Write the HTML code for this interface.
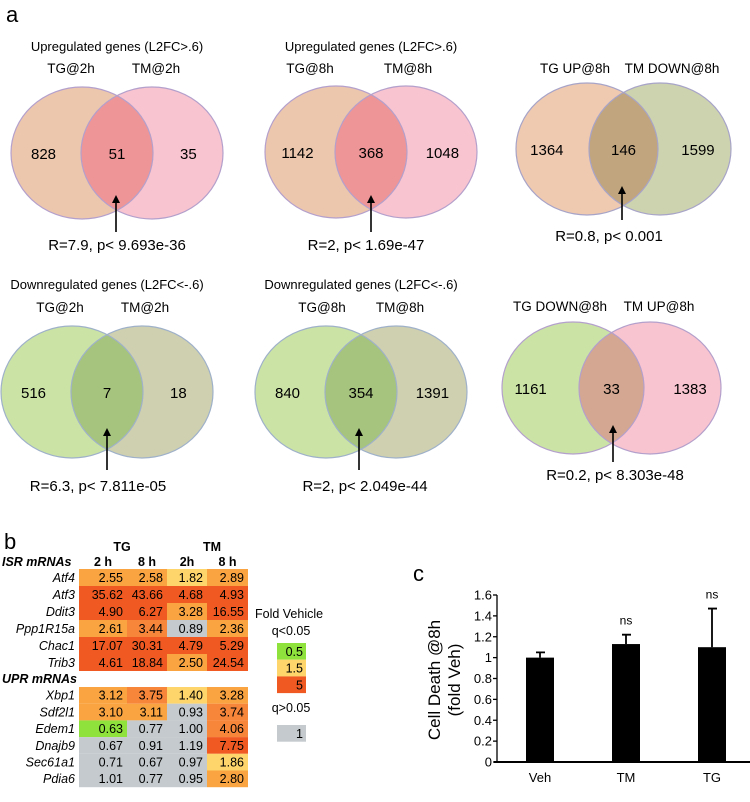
<!DOCTYPE html>
<html><head><meta charset="utf-8"><style>
body{margin:0;background:#fff;}
svg text{font-family:"Liberation Sans",sans-serif;fill:#000;}
</style></head><body>
<svg id="fig" width="750" height="797" viewBox="0 0 750 797" xmlns="http://www.w3.org/2000/svg">
<defs>
<marker id="ah" markerWidth="8" markerHeight="8" refX="4" refY="4" orient="auto" markerUnits="userSpaceOnUse"><path d="M0,0 L8,4 L0,8 z" fill="#000"/></marker>
</defs>
<g id="venns"></g>
<g id="heat"></g>
<g id="bars"></g>
</svg>
<script>
const NS="http://www.w3.org/2000/svg";
function mk(p,t,a,txt){const e=document.createElementNS(NS,t);for(const k in a)e.setAttribute(k,a[k]);if(txt!==undefined)e.textContent=txt;p.appendChild(e);return e;}

// ---------- Panel a: Venn data ----------
const vennTitles=["Upregulated genes (L2FC>.6)","Upregulated genes (L2FC>.6)","","Downregulated genes (L2FC<-.6)","Downregulated genes (L2FC<-.6)",""];
const vennLeftLabels=["TG@2h","TG@8h","TG UP@8h","TG@2h","TG@8h","TG DOWN@8h"];
const vennRightLabels=["TM@2h","TM@8h","TM DOWN@8h","TM@2h","TM@8h","TM UP@8h"];
const vennLeftOnly=[828,1142,1364,516,840,1161];
const vennOverlap=[51,368,146,7,354,33];
const vennRightOnly=[35,1048,1599,18,1391,1383];
const vennStats=["R=7.9, p< 9.693e-36","R=2, p< 1.69e-47","R=0.8, p< 0.001","R=6.3, p< 7.811e-05","R=2, p< 2.049e-44","R=0.2, p< 8.303e-48"];
// layout (not data)
const vLayout=[
 {l:82,r:152,cy:153,t:51,lab:73,lx:71,rx:156,ax:116,ay1:232,ay2:195,sx:117,sy:250,cl:["#ecc7ae","#f8c4cf","#ee9597"],st:"#b4a0cc"},
 {l:336,r:406,cy:152,t:51,lab:73,lx:310,rx:408,ax:371,ay1:232,ay2:195,sx:366,sy:250,cl:["#ecc7ae","#f8c4cf","#ee9597"],st:"#b4a0cc"},
 {l:587,r:660,cy:149,t:0,lab:73,lx:575,rx:672,ax:622,ay1:220,ay2:186,sx:609,sy:241,cl:["#efc9b0","#cdd3ae","#c1a57f"],st:"#a7a4c8"},
 {l:72,r:142,cy:392,t:289,lab:312,lx:60,rx:145,ax:107,ay1:470,ay2:428,sx:98,sy:491,cl:["#cbe4a6","#cfd0b0","#a6c47d"],st:"#9fb1c9"},
 {l:326,r:396,cy:392,t:289,lab:312,lx:322,rx:400,ax:359,ay1:470,ay2:428,sx:365,sy:491,cl:["#cbe4a6","#cfd0b0","#a6c47d"],st:"#9fb1c9"},
 {l:573,r:650,cy:388,t:0,lab:311,lx:560,rx:659,ax:613,ay1:462,ay2:425,sx:615,sy:480,cl:["#cbe4a6","#f8c4cf","#d3a791"],st:"#b4a0cc"}
];
const vg=document.getElementById('venns');
const aLab=mk(vg,'text',{x:6,y:22,'font-size':22});aLab.textContent='a';


vennOverlap.forEach((ov,i)=>{
 const L=vLayout[i];const g=mk(vg,'g',{});
 
 
 const rx=71,ry=66;
 const cp=mk(g,'clipPath',{id:'cp'+i});mk(cp,'ellipse',{cx:L.l,cy:L.cy,rx:rx,ry:ry});
 const e1=mk(g,'ellipse',{cx:L.l,cy:L.cy,rx:rx,ry:ry,fill:L.cl[0]});
 
 
 const e2=mk(g,'ellipse',{cx:L.r,cy:L.cy,rx:rx,ry:ry,fill:L.cl[1]});
 
 
 const e3=mk(g,'ellipse',{cx:L.r,cy:L.cy,rx:rx,ry:ry,fill:L.cl[2],'clip-path':'url(#cp'+i+')'});
 
 
 mk(g,'ellipse',{cx:L.l,cy:L.cy,rx:rx,ry:ry,fill:'none',stroke:L.st,'stroke-width':1.2});
 mk(g,'ellipse',{cx:L.r,cy:L.cy,rx:rx,ry:ry,fill:'none',stroke:L.st,'stroke-width':1.2});
 if(vennTitles[i]){const t=mk(g,'text',{x:(L.l+L.r)/2,y:L.t,'font-size':13,'text-anchor':'middle'},vennTitles[i]);
  
  }
 const t1=mk(g,'text',{x:L.lx,y:L.lab,'font-size':13.5,'text-anchor':'middle'},vennLeftLabels[i]);
 
 
 const t2=mk(g,'text',{x:L.rx,y:L.lab,'font-size':13.5,'text-anchor':'middle'},vennRightLabels[i]);
 
 
 const lc=L.l-(L.r-L.l)*0.55, mc=(L.l+L.r)/2, rc=L.r+(L.r-L.l)*0.52;
 const n1=mk(g,'text',{x:lc,y:L.cy+6,'font-size':15,'text-anchor':'middle'},String(vennLeftOnly[i]));
 
 
 const n2=mk(g,'text',{x:mc,y:L.cy+6,'font-size':15,'text-anchor':'middle'},String(ov));
 
 
 const n3=mk(g,'text',{x:rc,y:L.cy+6,'font-size':15,'text-anchor':'middle'},String(vennRightOnly[i]));
 
 
 const ar=mk(g,'line',{x1:L.ax,y1:L.ay1,x2:L.ax,y2:L.ay2+4,stroke:'#000','stroke-width':1.6,'marker-end':'url(#ah)'});
 
 
 const s=mk(g,'text',{x:L.sx,y:L.sy,'font-size':15,'text-anchor':'middle'},vennStats[i]);
 
 
});

// ---------- Panel b: heatmap data ----------
const isrGenes=["Atf4","Atf3","Ddit3","Ppp1R15a","Chac1","Trib3"];
const uprGenes=["Xbp1","Sdf2l1","Edem1","Dnajb9","Sec61a1","Pdia6"];
const colHeaders=["2 h","8 h","2h","8 h"];
const isrValues=[[2.55,2.58,1.82,2.89],[35.62,43.66,4.68,4.93],[4.90,6.27,3.28,16.55],[2.61,3.44,0.89,2.36],[17.07,30.31,4.79,5.29],[4.61,18.84,2.50,24.54]];
const uprValues=[[3.12,3.75,1.40,3.28],[3.10,3.11,0.93,3.74],[0.63,0.77,1.00,4.06],[0.67,0.91,1.19,7.75],[0.71,0.67,0.97,1.86],[1.01,0.77,0.95,2.80]];
const isrSig=[[1,1,1,1],[1,1,1,1],[1,1,1,1],[1,1,0,1],[1,1,1,1],[1,1,1,1]];
const uprSig=[[1,1,1,1],[1,1,0,1],[1,0,0,1],[0,0,0,1],[0,0,0,1],[0,0,0,1]];
const legendValues=[0.5,1.5,5];
function cellColor(v,sig){if(!sig)return'#c4cacd';if(v<1)return'#8fe23c';if(v<2)return'#fdd56a';if(v<3.3)return'#f9a440';if(v<4.5)return'#f7853a';return'#f05a22';}
const hg=document.getElementById('heat');
const colX=[79,127,167,207,248];
function t(p,x,y,s,txt,extra){const e=mk(p,'text',Object.assign({x:x,y:y,'font-size':s},extra||{}),txt);return e;}
const bl=t(hg,4,549,22,'b');
const h1=t(hg,122,551,12.5,'TG',{'font-weight':'bold','text-anchor':'middle'});
const h2=t(hg,212,551,12.5,'TM',{'font-weight':'bold','text-anchor':'middle'});
colHeaders.forEach((c,j)=>{const e=t(hg,(colX[j]+colX[j+1])/2,566,12.5,c,{'font-weight':'bold','text-anchor':'middle'});
 });
const s1=t(hg,2,566,12.5,'ISR mRNAs',{'font-weight':'bold','font-style':'italic'});
const s2=t(hg,2,683,12.5,'UPR mRNAs',{'font-weight':'bold','font-style':'italic'});
function drawBlock(genes,vals,sig,top,rh){
 genes.forEach((g,i)=>{const y=top+i*rh;
  const gl=t(hg,75,y+rh-4,12.5,g,{'font-style':'italic','text-anchor':'end'});
  
  vals[i].forEach((v,j)=>{const r=mk(hg,'rect',{x:colX[j],y:y,width:colX[j+1]-colX[j],height:rh,fill:cellColor(v,sig[i][j])});
   
   const tv=t(hg,colX[j+1]-4,y+rh-4,12.5,v.toFixed(2),{'text-anchor':'end'});
   });
 });}
drawBlock(isrGenes,isrValues,isrSig,569,17);
drawBlock(uprGenes,uprValues,uprSig,687,16.7);
const lf=t(hg,255,618,12.5,'Fold Vehicle');
const lq=t(hg,291,635,12.5,'q<0.05',{'text-anchor':'middle'});
legendValues.forEach((v,k)=>{const y=643+k*16.7;
 const r=mk(hg,'rect',{x:277,y:y,width:29,height:16.7,fill:cellColor(v,1)});
 
 const e=t(hg,303,y+13,12.5,String(v),{'text-anchor':'end'});});
const lq2=t(hg,291,712,12.5,'q>0.05',{'text-anchor':'middle'});
const gr=mk(hg,'rect',{x:277,y:725,width:29,height:16.7,fill:'#c4cacd'});
const g1=t(hg,303,738,12.5,'1',{'text-anchor':'end'});

// ---------- Panel c: bar chart data ----------
const barCategories=["Veh","TM","TG"];
const barValues=[1.0,1.13,1.10];
const barErrors=[0.05,0.09,0.37];
const barAnnot=["","ns","ns"];
const yTicks=[0,0.2,0.4,0.6,0.8,1,1.2,1.4,1.6];
const bg=document.getElementById('bars');
const y0=762,yTop=595,yMax=1.6,axX=497,axR=750;
const yS=v=>y0-(v/yMax)*(y0-yTop);
const xS=i=>540+i*86;
const cl=t(bg,413,581,22,'c');
const ya=mk(bg,'line',{x1:axX,y1:yTop,x2:axX,y2:y0,stroke:'#000','stroke-width':1.3});
const xa=mk(bg,'line',{x1:axX-3,y1:y0,x2:axR,y2:y0,stroke:'#000','stroke-width':2});
yTicks.forEach(v=>{mk(bg,'line',{x1:axX-4,y1:yS(v),x2:axX,y2:yS(v),stroke:'#000','stroke-width':1.3});
 const e=t(bg,492,yS(v)+4.5,13,String(v),{'text-anchor':'end'});});
const yt=mk(bg,'text',{transform:'translate(440,680) rotate(-90)','font-size':17,'text-anchor':'middle'});

mk(yt,'tspan',{x:0,y:0},'Cell Death @8h');mk(yt,'tspan',{x:0,y:20},'(fold Veh)');
barCategories.forEach((c,i)=>{const cx=xS(i),v=barValues[i],e=barErrors[i];
 const r=mk(bg,'rect',{x:cx-14,y:yS(v),width:28,height:y0-yS(v),fill:'#000'});
 
 const eb=mk(bg,'path',{d:`M${cx},${yS(v)} V${yS(v+e)} M${cx-4},${yS(v+e)} H${cx+5}`,stroke:'#000','stroke-width':1.8,fill:'none'});
 
 const xl=t(bg,cx,782,13,c,{'text-anchor':'middle'});
 if(barAnnot[i]){const a=t(bg,cx,yS(v+e)-10,12,barAnnot[i],{'text-anchor':'middle'});}
});
</script>
</body></html>
